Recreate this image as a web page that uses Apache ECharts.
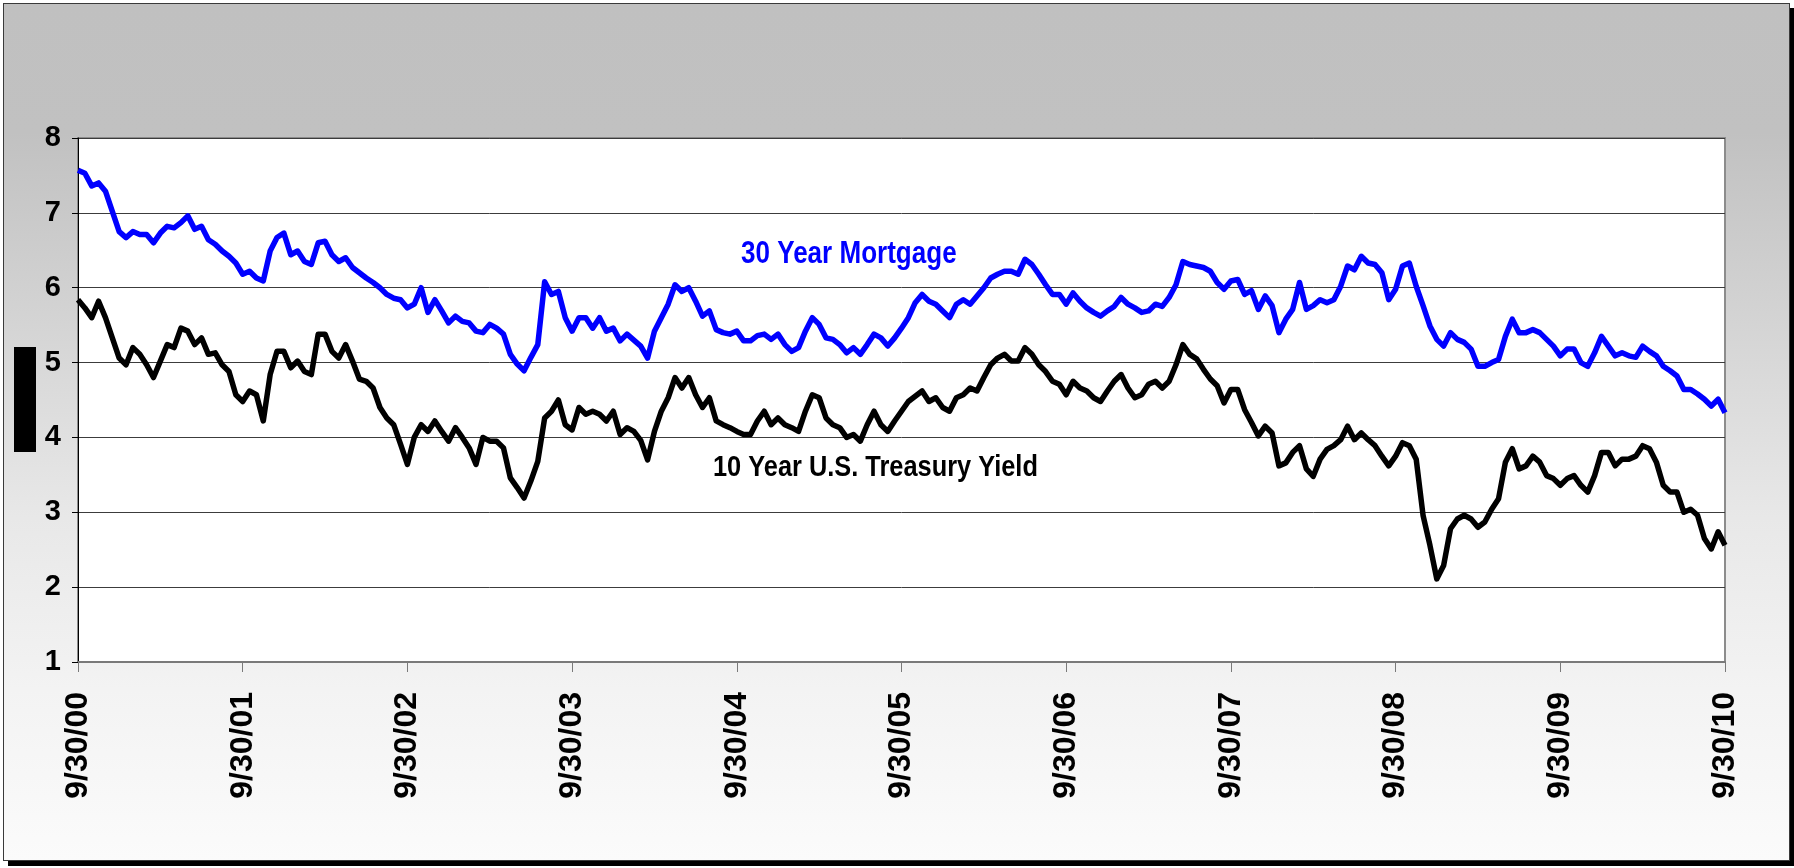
<!DOCTYPE html>
<html>
<head>
<meta charset="utf-8">
<script src="https://cdn.jsdelivr.net/npm/echarts@6/dist/echarts.min.js"></script>
<style>
  html, body { margin: 0; padding: 0; background: #ffffff; }
  #wrap { position: relative; width: 1794px; height: 868px; overflow: hidden; background: #fff; }
  #frame {
    position: absolute; left: 3px; top: 3px; width: 1785px; height: 856px;
    border: 1px solid #3a3a3a;
    box-shadow: 5px 5px 0 #000;
    background: linear-gradient(to bottom, #c0c0c0 0%, #c1c1c1 15%, #d2d2d2 35%, #e8e8e8 60%, #f3f3f3 80%, #fbfbfb 100%);
  }
  #chart { position: absolute; left: 0; top: 0; width: 1794px; height: 868px; }
</style>
</head>
<body>
<div id="wrap">
  <div id="frame"></div>
  <div id="chart"></div>
</div>
<script>
// Tick labels for the x axis (one per year, 9/30/00 .. 9/30/10)
var tickLabels = ['9/30/00','9/30/01','9/30/02','9/30/03','9/30/04','9/30/05','9/30/06','9/30/07','9/30/08','9/30/09','9/30/10'];
// Observations are semi-monthly: 24 per year, starting 9/30/00
var periodsPerYear = 24;

// 30 Year Mortgage rate (%), semi-monthly
var mortgage30 = [
7.57,7.53,7.36,7.40,7.29,7.02,6.75,6.67,6.75,6.71,6.71,6.60,6.73,6.82,6.80,6.87,6.96,6.78,6.82,6.64,6.58,6.49,6.42,6.33,
6.18,6.22,6.13,6.09,6.49,6.67,6.73,6.44,6.49,6.35,6.31,6.60,6.62,6.44,6.35,6.40,6.27,6.20,6.13,6.07,6.00,5.91,5.86,5.84,
5.73,5.78,6.00,5.67,5.84,5.69,5.53,5.62,5.55,5.53,5.42,5.40,5.51,5.46,5.38,5.11,4.98,4.89,5.07,5.24,6.08,5.91,5.95,5.60,
5.42,5.60,5.60,5.46,5.60,5.42,5.46,5.29,5.38,5.30,5.22,5.06,5.42,5.60,5.78,6.04,5.95,6.00,5.82,5.62,5.69,5.44,5.40,5.38,
5.42,5.29,5.29,5.36,5.38,5.31,5.38,5.24,5.15,5.20,5.42,5.60,5.51,5.33,5.31,5.24,5.13,5.20,5.11,5.24,5.38,5.33,5.22,5.33,
5.46,5.60,5.80,5.91,5.82,5.78,5.69,5.60,5.78,5.84,5.78,5.89,6.00,6.13,6.18,6.22,6.22,6.18,6.38,6.31,6.18,6.04,5.91,5.91,
5.78,5.93,5.82,5.73,5.67,5.62,5.69,5.75,5.87,5.78,5.73,5.67,5.69,5.78,5.75,5.87,6.04,6.35,6.31,6.29,6.27,6.22,6.07,5.98,
6.09,6.11,5.91,5.96,5.71,5.89,5.76,5.40,5.58,5.71,6.07,5.71,5.76,5.84,5.80,5.84,6.02,6.29,6.24,6.42,6.33,6.31,6.20,5.84,
5.98,6.29,6.33,6.02,5.76,5.49,5.31,5.22,5.40,5.31,5.27,5.18,4.95,4.95,5.00,5.04,5.35,5.58,5.40,5.40,5.44,5.40,5.31,5.22,
5.09,5.18,5.18,5.00,4.95,5.13,5.35,5.22,5.09,5.13,5.09,5.07,5.22,5.15,5.09,4.95,4.89,4.82,4.64,4.64,4.58,4.51,4.42,4.51,
4.33
];

// 10 Year U.S. Treasury Yield (%), semi-monthly
var treasury10 = [
5.84,5.73,5.60,5.82,5.60,5.33,5.06,4.97,5.20,5.11,4.97,4.80,5.02,5.24,5.20,5.46,5.42,5.24,5.33,5.11,5.13,4.97,4.88,4.57,
4.48,4.62,4.57,4.22,4.84,5.15,5.15,4.93,5.02,4.88,4.84,5.38,5.38,5.15,5.06,5.24,5.02,4.78,4.75,4.66,4.40,4.26,4.17,3.91,
3.64,4.00,4.17,4.08,4.22,4.08,3.95,4.13,4.00,3.86,3.64,4.00,3.95,3.95,3.86,3.46,3.33,3.19,3.42,3.68,4.26,4.35,4.50,4.17,
4.10,4.40,4.31,4.35,4.31,4.22,4.35,4.04,4.13,4.08,3.96,3.70,4.08,4.35,4.53,4.80,4.66,4.80,4.57,4.40,4.53,4.22,4.17,4.13,
4.08,4.04,4.04,4.22,4.35,4.17,4.26,4.17,4.13,4.08,4.35,4.57,4.53,4.26,4.17,4.13,4.00,4.04,3.95,4.17,4.35,4.17,4.08,4.22,
4.35,4.48,4.55,4.62,4.48,4.53,4.40,4.35,4.53,4.57,4.66,4.62,4.80,4.97,5.06,5.11,5.02,5.02,5.20,5.11,4.97,4.88,4.75,4.71,
4.57,4.75,4.66,4.62,4.53,4.48,4.62,4.75,4.84,4.66,4.53,4.57,4.71,4.75,4.66,4.75,4.97,5.24,5.11,5.05,4.91,4.78,4.69,4.46,
4.64,4.64,4.37,4.20,4.02,4.15,4.06,3.62,3.66,3.80,3.89,3.58,3.48,3.71,3.84,3.89,3.97,4.15,3.97,4.06,3.97,3.89,3.75,3.62,
3.75,3.93,3.89,3.71,2.96,2.56,2.11,2.29,2.78,2.91,2.96,2.91,2.80,2.87,3.04,3.18,3.67,3.85,3.58,3.62,3.75,3.67,3.49,3.45,
3.36,3.45,3.49,3.36,3.27,3.49,3.80,3.80,3.62,3.71,3.71,3.75,3.89,3.85,3.67,3.36,3.27,3.27,3.00,3.04,2.96,2.65,2.51,2.74,
2.56
];

var seriesNames = ['30 Year Mortgage', '10 Year U.S. Treasury Yield'];

function toPairs(arr) {
  return arr.map(function (v, i) { return [i / periodsPerYear, v]; });
}

var chart = echarts.init(document.getElementById('chart'), null, { renderer: 'canvas' });
var labelFont = "'Liberation Sans', Arial, sans-serif";

chart.setOption({
  backgroundColor: 'transparent',
  animation: false,
  grid: {
    left: 78, top: 138, right: 69, bottom: 206,
    show: true, backgroundColor: '#ffffff',
    borderColor: '#8c8c8c', borderWidth: 2
  },
  xAxis: {
    type: 'value', min: 0, max: tickLabels.length - 1, interval: 1,
    axisLine: { show: true, lineStyle: { color: '#7a7a7a', width: 2 } },
    axisTick: { show: true, length: 10, lineStyle: { color: '#7a7a7a', width: 1 } },
    splitLine: { show: false },
    axisLabel: {
      rotate: 90, margin: 30, color: '#000',
      fontSize: 32, fontWeight: 'bold', fontFamily: labelFont,
      formatter: function (v) { return tickLabels[Math.round(v)]; }
    }
  },
  yAxis: {
    type: 'value', min: 1, max: 8, interval: 1,
    axisLine: { show: true, lineStyle: { color: '#000', width: 1 } },
    axisTick: { show: true, length: 6, lineStyle: { color: '#000', width: 1 } },
    splitLine: { show: true, lineStyle: { color: '#3c3c3c', width: 1 } },
    axisLabel: {
      margin: 17, color: '#000',
      fontSize: 29, fontWeight: 'bold', fontFamily: labelFont
    }
  },
  series: [
    {
      name: seriesNames[0], type: 'line', showSymbol: false, symbol: 'none',
      data: toPairs(mortgage30),
      lineStyle: { color: '#0000ff', width: 5.5, join: 'round' },
      z: 3
    },
    {
      name: seriesNames[1], type: 'line', showSymbol: false, symbol: 'none',
      data: toPairs(treasury10),
      lineStyle: { color: '#000000', width: 5.5, join: 'round' },
      z: 4
    }
  ],
  graphic: [
    { type: 'rect', shape: { x: 14, y: 347, width: 22, height: 105 }, style: { fill: '#000' }, z: 10 },
    { type: 'text', x: 741, y: 254, scaleX: 0.84, z: 10,
      style: { text: seriesNames[0], fill: '#0000ff', font: "bold 31px " + labelFont, align: 'left', verticalAlign: 'middle' } },
    { type: 'text', x: 713, y: 468, scaleX: 0.875, z: 10,
      style: { text: seriesNames[1], fill: '#000000', font: "bold 29px " + labelFont, align: 'left', verticalAlign: 'middle' } }
  ]
});
</script>
</body>
</html>
